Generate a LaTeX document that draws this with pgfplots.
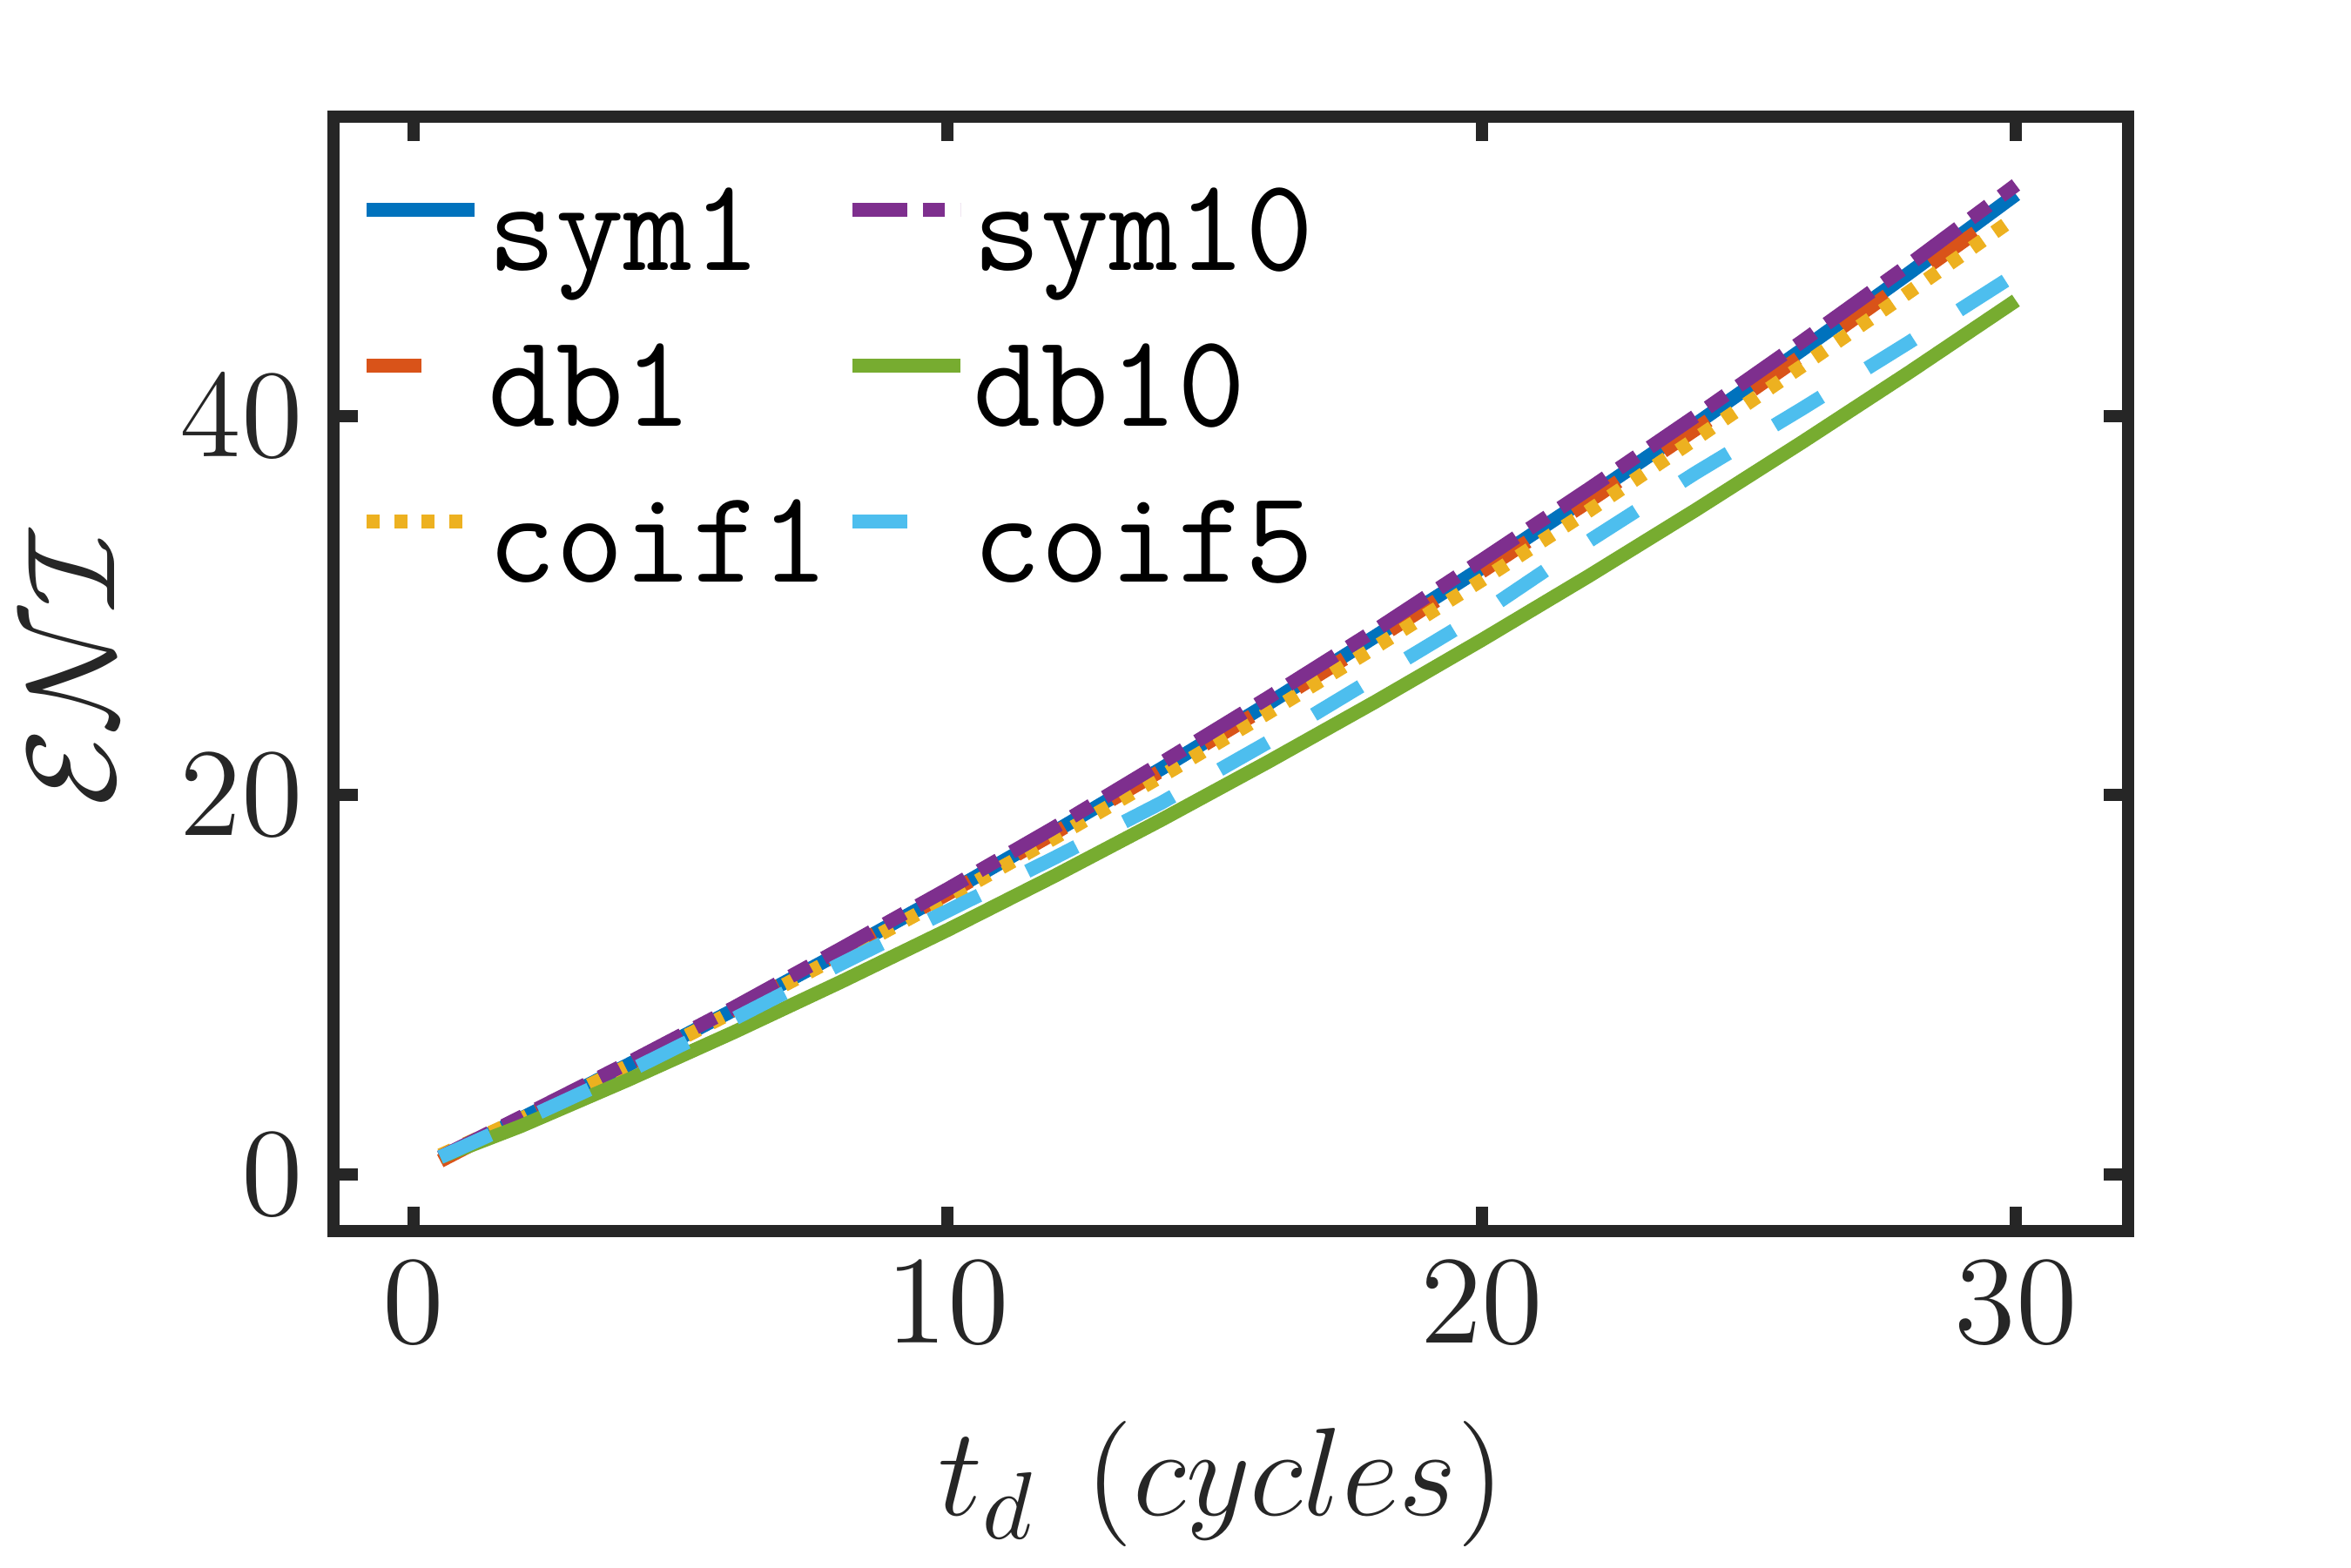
\documentclass[border=0pt]{standalone}
\usepackage{pgfplots}
\pgfplotsset{compat=1.18}
\definecolor{axgray}{RGB}{38,38,38}
\definecolor{mblue}{RGB}{0,114,189}
\definecolor{morange}{RGB}{217,83,25}
\definecolor{myellow}{RGB}{237,177,32}
\definecolor{mpurple}{RGB}{126,47,142}
\definecolor{mgreen}{RGB}{119,172,48}
\definecolor{mcyan}{RGB}{77,190,238}
\begin{document}
\begin{tikzpicture}
\path[use as bounding box] (-38.3pt,-38.6pt) rectangle (231.7pt,141.4pt);
\begin{axis}[
  at={(0,0)}, anchor=south west,
  scale only axis, width=206.1pt, height=128pt,
  xmin=-1.5, xmax=32.1, ymin=-3, ymax=55.8,
  xtick={0,10,20,30}, ytick={0,20,40},
  axis line style={line width=1.4pt, color=axgray},
  every tick/.style={line width=1.4pt, color=axgray},
  major tick length=2.8pt,
  tick align=inside,
  ticklabel style={font=\fontsize{14.6}{17}\selectfont, color=axgray},
  xlabel={$t_d\ \hspace{1pt}(cycles)$},
  ylabel={$\mathcal{ENI}$},
  xlabel style={font=\fontsize{15.3}{18}\selectfont, color=axgray, inner sep=0pt, at={(axis description cs:0.495,-0.2273)}, anchor=center},
  ylabel style={font=\fontsize{15.8}{19}\selectfont, color=axgray, inner sep=0pt, at={(axis description cs:-0.146,0.506)}, anchor=center},
  legend columns=3, transpose legend,
  legend cell align=left,
  legend style={at={(0.0147,0.94)}, anchor=north west, draw=none, fill=none,
    inner sep=0pt, outer sep=0pt,
    font=\fontsize{15.2}{18}\ttfamily,
    nodes={inner sep=0pt, text height=10pt, text depth=3pt},
    row sep=4.9pt},
  legend image code/.code={\draw[#1] (0pt,3.5pt) -- (12.4pt,3.5pt);},
  /tikz/every odd column/.append style={column sep=0.7pt},
  /tikz/every even column/.append style={column sep=1.9pt},
  every axis plot/.append style={line width=1.6pt},
]
\addplot[color=mblue, solid] coordinates {
(0.5,0.87) (2,2.92) (4,5.75) (6,8.68) (8,11.71) (10,14.84) (12,18.07) (14,21.40) (16,24.83) (18,28.37) (20,32.0) (22,35.74) (24,39.57) (26,43.51) (28,47.55) (30,51.70)};
\addlegendentry{sym1}
\addplot[color=morange, dash pattern=on 6.3pt off 6.2pt] coordinates {
(0.5,0.7) (2,2.9) (4,5.75) (6,8.7) (8,11.7) (10,14.8) (12,18.0) (14,21.3) (16,24.7) (18,28.2) (20,31.8) (22,35.5) (24,39.3) (26,43.2) (28,47.2) (30,51.2)};
\addlegendentry{db1}
\addplot[color=myellow, dash pattern=on 1.5pt off 1.65pt] coordinates {
(0.5,1.0) (2,2.9) (4,5.7) (6,8.6) (8,11.55) (10,14.6) (12,17.75) (14,21.0) (16,24.35) (18,27.8) (20,31.35) (22,35.0) (24,38.8) (26,42.65) (28,46.55) (30,50.5)};
\addlegendentry{coif1}
\addplot[color=mpurple, dash pattern=on 6.3pt off 1.8pt on 2.5pt off 1.8pt] coordinates {
(0.5,0.9) (2,3.0) (4,5.85) (6,8.8) (8,11.9) (10,15.05) (12,18.3) (14,21.7) (16,25.15) (18,28.7) (20,32.4) (22,36.15) (24,40.0) (26,43.95) (28,48.0) (30,52.2)};
\addlegendentry{sym10}
\addplot[color=mgreen, solid] coordinates {
(0.5,0.9) (2,2.53) (4,4.96) (6,7.5) (8,10.15) (10,12.89) (12,15.74) (14,18.7) (16,21.76) (18,24.92) (20,28.19) (22,31.56) (24,35.04) (26,38.63) (28,42.31) (30,46.1)};
\addlegendentry{db10}
\addplot[color=mcyan, dash pattern=on 6.3pt off 6.2pt] coordinates {
(0.5,0.9) (2,2.8) (4,5.4) (6,8.2) (8,11.1) (10,13.9) (12,16.7) (14,19.6) (16,22.8) (18,26.2) (20,29.6) (22,33.4) (24,37.0) (26,40.4) (28,43.9) (30,47.5)};
\addlegendentry{coif5}
\end{axis}
\end{tikzpicture}
\end{document}
